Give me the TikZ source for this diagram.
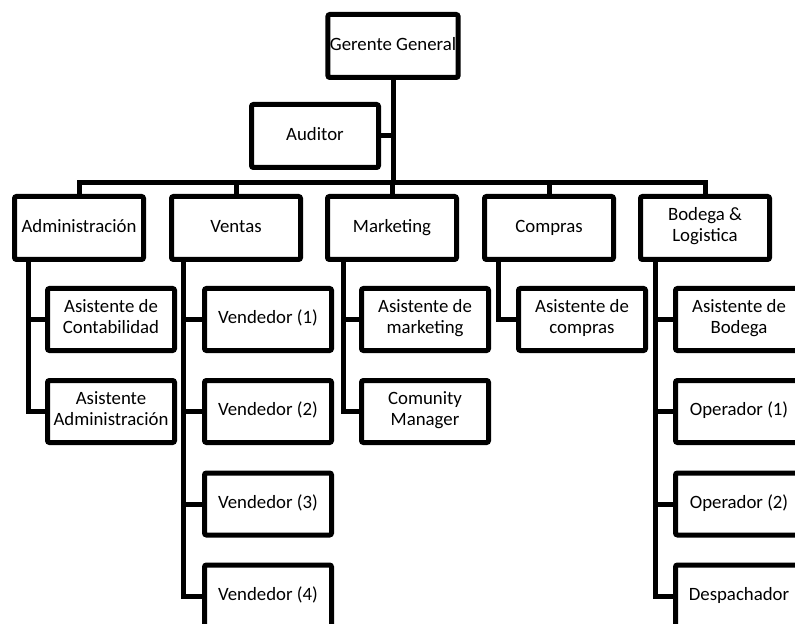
\documentclass[tikz,border=0pt]{standalone}
\usepackage{fontspec}
\setmainfont{Carlito}
\usepackage{tikz}
\usetikzlibrary{positioning,calc}

\begin{document}
\begin{tikzpicture}[
  x=0.5pt, y=-0.5pt,
  line width=2.5pt,
  link/.style = {draw, line width=2.5pt},
  topbox/.style = {draw, rounded corners=1pt, minimum width=64.5pt,
                   minimum height=31.5pt, inner sep=1pt, align=center,
                   font=\fontsize{9.4pt}{10.5pt}\selectfont,
                   execute at begin node=\strut},
  subbox/.style = {draw, rounded corners=1pt, minimum width=63.5pt,
                   minimum height=31pt, inner sep=1pt, align=center,
                   font=\fontsize{9.4pt}{10.5pt}\selectfont,
                   execute at begin node=\strut},
]
\useasboundingbox (0,0) rectangle (795,624);
\clip (0,0) rectangle (795,624);

% Top of the chart
\node[topbox] (ger) at (393, 46) {Gerente General};
\node[subbox, minimum height=31.5pt] (aud) at (315, 136) {Auditor};

% Departments
\node[topbox] (adm) at (79, 228) {Administración};
\node[topbox] (ven) at (236, 228) {Ventas};
\node[topbox] (mkt) at (392, 228) {Marketing};
\node[topbox] (com) at (549, 228) {Compras};
\node[topbox] (bod) at (705, 228) {Bodega \&\\Logistica};

% Staff under each department
\node[subbox] (admA) at (111, 319.5) {Asistente de\\Contabilidad};
\node[subbox] (admB) at (111, 411.5) {Asistente\\Administración};

\node[subbox] (ven1) at (268, 319.5) {Vendedor (1)};
\node[subbox] (ven2) at (268, 411.5) {Vendedor (2)};
\node[subbox] (ven3) at (268, 504) {Vendedor (3)};
\node[subbox] (ven4) at (268, 596) {Vendedor (4)};

\node[subbox] (mktA) at (425, 319.5) {Asistente de\\marketing};
\node[subbox] (mktB) at (425, 411.5) {Comunity\\Manager};

\node[subbox] (comA) at (582, 319.5) {Asistente de\\compras};

\node[subbox] (bodA) at (739, 319.5) {Asistente de\\Bodega};
\node[subbox] (bod1) at (739, 411.5) {Operador (1)};
\node[subbox] (bod2) at (739, 504) {Operador (2)};
\node[subbox] (bod3) at (739, 596) {Despachador};

% Bar joining the departments
\coordinate (bar) at (0, 183);
\draw[link] (ger.south) -- (ger |- bar);
\draw[link] (aud.east) -- (aud.east -| ger);
\draw[link] (adm.north) -- (adm |- bar) -- (bod |- bar) -- (bod.north);
\draw[link] (ven.north) -- (ven |- bar);
\draw[link] (mkt.north) -- (mkt |- bar);
\draw[link] (com.north) -- (com |- bar);

% Trunks down the left side of each department
\coordinate (admT) at ([xshift=-25.5pt]adm.south);
\coordinate (venT) at ([xshift=-26.5pt]ven.south);
\coordinate (mktT) at ([xshift=-24.5pt]mkt.south);
\coordinate (comT) at ([xshift=-25.5pt]com.south);
\coordinate (bodT) at ([xshift=-25pt]bod.south);

\draw[link] (admT) |- (admA.west);
\draw[link] (admT) |- (admB.west);
\draw[link] (venT) |- (ven1.west);
\draw[link] (venT) |- (ven2.west);
\draw[link] (venT) |- (ven3.west);
\draw[link] (venT) |- (ven4.west);
\draw[link] (mktT) |- (mktA.west);
\draw[link] (mktT) |- (mktB.west);
\draw[link] (comT) |- (comA.west);
\draw[link] (bodT) |- (bodA.west);
\draw[link] (bodT) |- (bod1.west);
\draw[link] (bodT) |- (bod2.west);
\draw[link] (bodT) |- (bod3.west);
\end{tikzpicture}
\end{document}
